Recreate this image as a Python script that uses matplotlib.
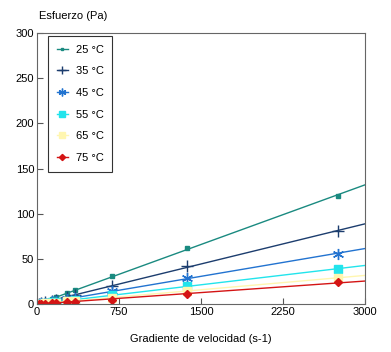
import numpy as np
import matplotlib
matplotlib.use("Agg")
import matplotlib.pyplot as plt

plt.rcParams['font.family'] = ['Liberation Sans', 'DejaVu Sans']

# shear rate (s-1) and stress (Pa)
shear = [17, 34, 69, 138, 172, 275, 344, 688, 1375, 2750]
temps = ['25 °C', '35 °C', '45 °C', '55 °C', '65 °C', '75 °C']
s25 = [1, 2, 3, 6, 8, 12, 16, 31, 62, 120]
s35 = [0.5, 1, 2, 4, 5, 8, 10, 20, 42, 81]
s45 = [0.4, 0.7, 1.4, 3, 3.5, 6, 7, 14, 29, 56]
s55 = [0.3, 0.5, 1, 2, 2.5, 4, 5, 10, 20, 39]
s65 = [0.2, 0.4, 0.7, 1.4, 1.8, 3, 3.6, 7, 15, 29]
s75 = [0.2, 0.3, 0.6, 1.2, 1.5, 2.3, 2.9, 5, 11, 24]
series = [s25, s35, s45, s55, s65, s75]

colors = ['#1a8a80', '#1c3d6e', '#2273d0', '#22e4ec', '#fff6b0', '#d41414']
markers = ['s', '+', (6, 2, 0), 's', 's', 'D']
msizes = [2.5, 9, 8, 5.5, 5.5, 4.5]

fig = plt.figure(figsize=(3.91, 3.52), dpi=100)
ax = fig.add_axes([0.0946, 0.136, 0.839, 0.770])

x = np.array(shear, dtype=float)
xfit = np.array([0, 3000])
for lab, ys, c, m, ms in zip(temps, series, colors, markers, msizes):
    y = np.array(ys, dtype=float)
    k = np.sum(x * y) / np.sum(x * x)  # fit through origin
    ax.plot(xfit, k * xfit, color=c, lw=1.0)
    ax.plot(x, y, ls='none', marker=m, color=c, ms=ms, mew=1.0)
    ax.plot([], [], color=c, lw=1.0, marker=m, ms=ms * 0.7, mew=1.0, label=lab)

ax.set_xlim(0, 3000)
ax.set_ylim(0, 300)
ax.set_xticks([0, 750, 1500, 2250, 3000])
ax.set_yticks([0, 50, 100, 150, 200, 250, 300])
ax.tick_params(direction='in', length=4, width=0.8, color='#555555',
               labelsize=8, pad=2)
for sp in ax.spines.values():
    sp.set_color('#666666')
    sp.set_linewidth(0.8)

ax.set_xlabel('Gradiente de velocidad (s-1)', fontsize=8, labelpad=12)
fig.text(0.1, 0.955, 'Esfuerzo (Pa)', fontsize=8, ha='left', va='center')

leg = ax.legend(loc='upper left', bbox_to_anchor=(0.033, 0.99), fontsize=8,
                frameon=True, fancybox=False, edgecolor='black',
                handlelength=1.0, handletextpad=0.7, labelspacing=1.05,
                borderpad=0.8, borderaxespad=0)
leg.get_frame().set_linewidth(0.8)

fig.savefig('out.png', dpi=100)
